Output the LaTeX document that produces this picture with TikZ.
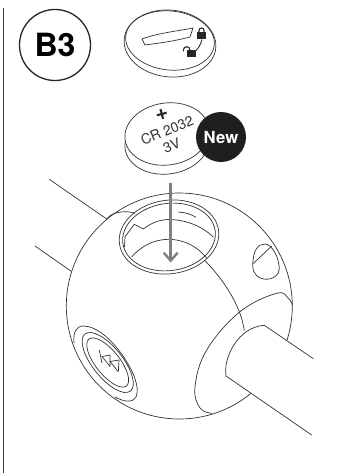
\documentclass[tikz,border=0pt]{standalone}
\usepackage{fontspec}
\setmainfont{TeX Gyre Heros}
\usetikzlibrary{
arrows.meta,
positioning
}

\begin{document}
\begin{tikzpicture}[
x=1pt,
y=-1pt,
line width=0.7pt,
draw=black!80,
every node/.style={inner sep=0pt},
sketchline/.style={draw=black!80,line width=0.7pt},
badgering/.style={draw=black!85,line width=1.3pt},
lockbody/.style={fill=black!85,draw=none},
insertarrow/.style={draw=black!50,line width=2.6pt,-{Straight Barb[length=8pt,width=14pt,line width=2.4pt]}},
cointext/.style={text=black!80,font=\fontsize{14}{14}\selectfont}
]

\useasboundingbox (0,0) rectangle (341,473);
\fill[white] (0,0) rectangle (341,473);

\draw[draw=black!75,line width=1.1pt] (3.5,8) -- (3.5,473);

% step badge
\node[circle,badgering,minimum size=71pt,font=\fontsize{32}{32}\selectfont\bfseries] (stepbadge) at (55,45) {B3};

% battery cover
\draw[sketchline] (170,43.5) ellipse [x radius=46pt,y radius=33.4pt,rotate=-6];
\draw[sketchline] (170,40.5) ellipse [x radius=44.5pt,y radius=29.5pt,rotate=-6];
\draw[sketchline,line join=round] (142,39) .. controls (158,33) and (178,31) .. (193,28)
  -- (190,37) .. controls (175,41) and (160,43) .. (145,45) -- cycle;
\fill[lockbody] (197.3,32.5) rectangle (205.7,38.8);
\draw[draw=black!85,line width=1.1pt] (199,33) -- (199,30.5) arc [start angle=180,end angle=0,radius=2.5pt] -- (204,33);
\draw[sketchline,line width=0.9pt] (202,39.5) .. controls (201,44) and (198,49) .. (195,51.5);
\fill[lockbody] (187,50.5) rectangle (196,57.3);
\draw[draw=black!85,line width=1.1pt] (190,50.5) -- (190,50) arc [start angle=0,end angle=180,radius=3.3pt] -- (183.4,51.5);

% new coin
\draw[sketchline] (167,143) ellipse [x radius=42.3pt,y radius=31pt,rotate=8];
\filldraw[sketchline,fill=white] (167,134) ellipse [x radius=42.3pt,y radius=31pt,rotate=8];
\node[rotate=15,font=\fontsize{22}{22}\selectfont\bfseries,text=black!85] (coinplus) at (162,115) {+};
\node[cointext,rotate=22] (cointype) at (167,130.5) {CR 2032};
\node[cointext,rotate=22] (coinvolt) at (171.7,146) {3V};
\node[circle,fill=black!88,minimum size=50pt,text=white,font=\fontsize{16.7}{17}\selectfont\bfseries] (newbadge) at (221,137) {New};

% cables on the left
\draw[sketchline] (49.3,179.3) -- (106.7,219);
\draw[sketchline] (35,246) -- (71.3,271.3);

% ball
\draw[sketchline] (179.3,306) circle [radius=113pt];

% coin opening
\draw[sketchline] (169,237) ellipse [x radius=50pt,y radius=36.8pt,rotate=8];
\draw[sketchline] (169,237) ellipse [x radius=46.6pt,y radius=33.6pt,rotate=8];
\draw[sketchline] plot[smooth,tension=.7] coordinates {(106.7,219) (113,214) (125,211.7) (135,213.3)};
\draw[sketchline,line join=round] (124.5,247) -- (125,236.7) -- (134.3,224.3) -- (143.3,229)
  .. controls (150,224) and (157,220) .. (168,219.5) .. controls (187,219.5) and (203,227) .. (213.3,237);
\draw[sketchline] (131.7,257) .. controls (140,247) and (153,239.5) .. (168.3,239.3) .. controls (185,239.5) and (198,247) .. (206.7,258.3);
\draw[sketchline] (178.3,212) .. controls (185,212.5) and (191,214) .. (196,217.3);

% side button
\draw[sketchline] (74,343) .. controls (73,333) and (76,326) .. (83,326) .. controls (97,326) and (112,340) .. (123,356)
  .. controls (134,372) and (140,388) .. (136,397) .. controls (133,403) and (124,402) .. (115,397);
\draw[sketchline] (107.7,362.5) ellipse [x radius=36.5pt,y radius=15pt,rotate=-51.4];
\draw[sketchline] (107.7,362.5) ellipse [x radius=30pt,y radius=12pt,rotate=-51.4];
\draw[sketchline] (99.3,350) -- (102,363);
\draw[sketchline,line join=round] (102,356.5) -- (110,355) -- (110,366.5) -- cycle;
\draw[sketchline,line join=round] (110,361.5) -- (119,360) -- (118.3,371.7) -- cycle;

% clip on the right
\draw[sketchline] (252.7,266.7) .. controls (252.7,250) and (258,244) .. (265,244)
  .. controls (272,244) and (279.3,258) .. (279.3,269) .. controls (279.3,275) and (273,279.3) .. (266.7,279.3)
  .. controls (258,279.3) and (252.7,273) .. (252.7,266.7) -- cycle;
\draw[sketchline] (253.3,263.5) -- (271.7,246);

% collar and tube
\draw[sketchline] (205,260.7) .. controls (222,278) and (241,305) .. (244.3,330.7);
\draw[sketchline] plot[smooth,tension=.65] coordinates {(212,413.3) (200,408) (195,386.7) (206.7,350) (240,311.7) (276.7,293.3) (288.3,298.3) (292.3,305)};
\fill[white] (226,376) .. controls (223,358) and (238,327) .. (264.3,325.3) -- (313.3,358.7) -- (311.7,435) -- cycle;
\draw[sketchline,line join=round] (313.3,358.7) -- (264.3,325.3) .. controls (238,327) and (223,358) .. (226,376) -- (311.7,435);

% insert arrow
\coordinate (arrowstart) at (170.7,183.3);
\coordinate (arrowend) at (170.7,262.5);
\draw[insertarrow] (arrowstart) -- (arrowend);

\end{tikzpicture}
\end{document}
